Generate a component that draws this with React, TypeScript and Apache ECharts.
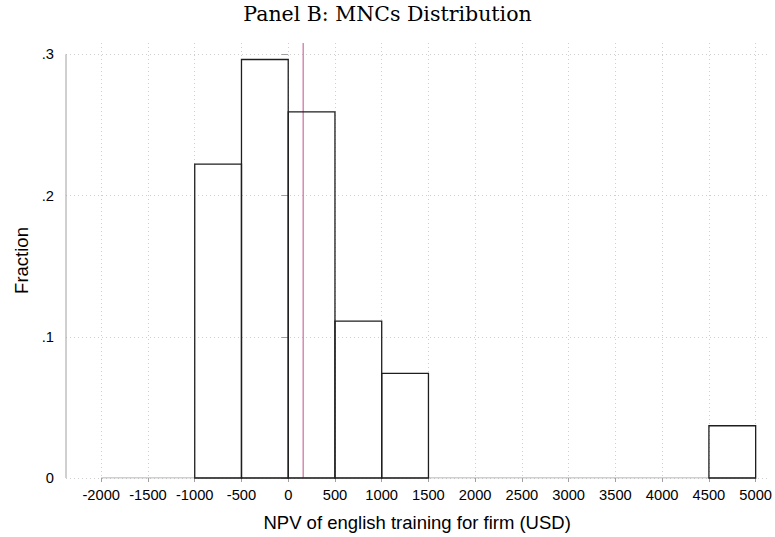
import React, { useEffect, useRef } from "react";
import * as echarts from "echarts";

const binStarts = [-1000, -500, 0, 500, 1000, 4500];
const binWidth = 500;
const fractions = [0.2222, 0.2963, 0.2593, 0.1111, 0.0741, 0.037];
const xTickValues = [-2000, -1500, -1000, -500, 0, 500, 1000, 1500, 2000, 2500, 3000, 3500, 4000, 4500, 5000];
const yTickValues = [0, 0.1, 0.2, 0.3];
const yTickLabels = ["0", ".1", ".2", ".3"];
const refLineX = 160;

const X_MIN = -2377;
const X_MAX = 5135;
const Y_MAX = 0.308;

export default function App() {
  const ref = useRef<HTMLDivElement>(null);
  useEffect(() => {
    if (!ref.current) return;
    const chart = echarts.init(ref.current, undefined, { renderer: "svg" });
    const sans = "Liberation Sans, Arial, Helvetica, sans-serif";
    const gridColor = "#cfcfcf";
    const axisColor = "#a0a0a0";
    const barData = binStarts.map((s, i) => [s, s + binWidth, fractions[i]]);
    chart.setOption({
      animation: false,
      backgroundColor: "#ffffff",
      title: {
        text: "Panel B: MNCs Distribution",
        left: "center",
        top: -2,
        textStyle: { fontFamily: "DejaVu Serif, serif", fontSize: 20.5, fontWeight: "normal", color: "#000" },
      },
      grid: { left: 66, right: 6, top: 43, bottom: 58, containLabel: false },
      xAxis: {
        type: "value",
        min: X_MIN,
        max: X_MAX,
        name: "NPV of english training for firm (USD)",
        nameLocation: "middle",
        nameGap: 35,
        nameTextStyle: { fontFamily: sans, fontSize: 18.5, color: "#000" },
        axisLine: { show: false },
        axisTick: { show: true, length: 4, lineStyle: { color: axisColor }, customValues: xTickValues },
        axisLabel: { fontFamily: sans, fontSize: 14.7, color: "#000", margin: 9, customValues: xTickValues, formatter: (v: number) => String(v) },
        splitLine: { show: true, lineStyle: { color: gridColor, type: [1, 3], width: 1 } },
      },
      yAxis: {
        type: "value",
        min: 0,
        max: Y_MAX,
        name: "Fraction",
        nameLocation: "middle",
        nameGap: 23,
        nameTextStyle: { fontFamily: sans, fontSize: 18.5, color: "#000" },
        axisLine: { show: false },
        axisTick: { show: true, length: 7, lineStyle: { color: axisColor }, customValues: yTickValues },
        axisLabel: {
          fontFamily: sans,
          fontSize: 14.7,
          color: "#000",
          margin: 12,
          customValues: yTickValues,
          formatter: (v: number) => {
            const i = yTickValues.findIndex((t) => Math.abs(t - v) < 1e-9);
            return i >= 0 ? yTickLabels[i] : "";
          },
        },
        splitLine: { show: true, lineStyle: { color: gridColor, type: [1, 3], width: 1 } },
      },
      series: [
        {
          type: "line",
          data: [[xTickValues[0], 0], [xTickValues[xTickValues.length - 1], 0]],
          symbol: "none",
          lineStyle: { color: axisColor, width: 1 },
          silent: true,
          z: 3,
        },
        {
          type: "line",
          data: [[X_MIN, 0], [X_MIN, yTickValues[yTickValues.length - 1]]],
          symbol: "none",
          lineStyle: { color: axisColor, width: 1 },
          silent: true,
          clip: false,
          z: 3,
        },
        {
          type: "line",
          data: [[refLineX, 0], [refLineX, Y_MAX]],
          symbol: "none",
          lineStyle: { color: "#c96ea0", width: 1.2 },
          silent: true,
          z: 4,
        },
        {
          type: "custom",
          data: barData,
          z: 5,
          renderItem: (params: any, api: any) => {
            const p0 = api.coord([api.value(0), api.value(2)]);
            const p1 = api.coord([api.value(1), 0]);
            return {
              type: "rect",
              shape: { x: p0[0], y: p0[1], width: p1[0] - p0[0], height: p1[1] - p0[1] },
              style: { fill: "none", stroke: "#1e1e1e", lineWidth: 1.3 },
            };
          },
        },
      ],
    });
    return () => chart.dispose();
  }, []);
  return <div ref={ref} style={{ position: "absolute", left: 0, top: 0, width: 775, height: 537 }} />;
}
